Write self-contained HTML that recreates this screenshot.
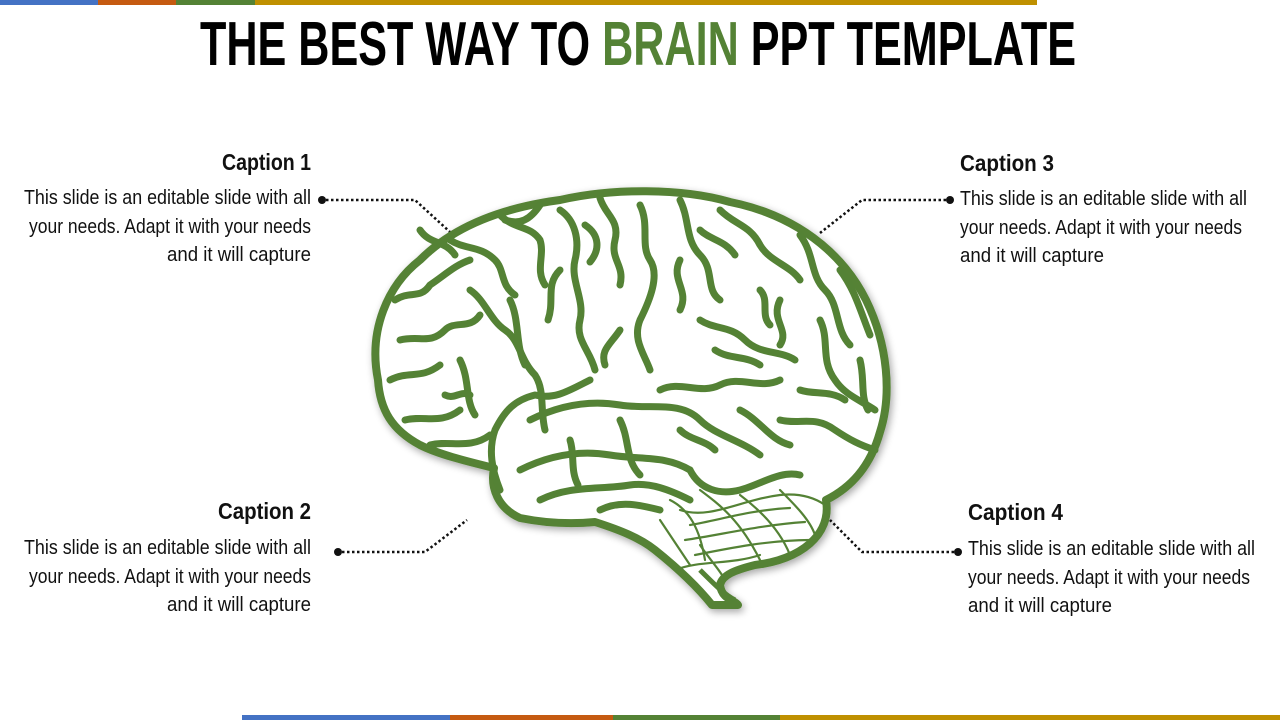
<!DOCTYPE html>
<html><head><meta charset="utf-8"><style>
html,body{margin:0;padding:0;background:#fff;width:1280px;height:720px;overflow:hidden}
svg{display:block}
text{font-family:"Liberation Sans Narrow","Liberation Sans",sans-serif}
.b{font-size:20px;fill:#111}
.h{font-size:23px;font-weight:bold;fill:#111}
.g{fill:none;stroke:#548235;stroke-width:7;stroke-linecap:round;stroke-linejoin:round}
.t{fill:none;stroke:#548235;stroke-width:2.2;stroke-linecap:round}
.d{fill:none;stroke:#111;stroke-width:2.5;stroke-dasharray:2.5 2.5}
</style></head><body>
<svg width="1280" height="720" viewBox="0 0 1280 720">
<defs><filter id="sh" x="-10%" y="-10%" width="120%" height="120%"><feGaussianBlur in="SourceAlpha" stdDeviation="4"/><feOffset dx="2" dy="3"/><feComponentTransfer><feFuncA type="linear" slope="0.35"/></feComponentTransfer><feMerge><feMergeNode/><feMergeNode in="SourceGraphic"/></feMerge></filter></defs>
<rect x="0" y="0" width="98" height="5" fill="#4472c4"/>
<rect x="98" y="0" width="78" height="5" fill="#c55a11"/>
<rect x="176" y="0" width="79" height="5" fill="#548235"/>
<rect x="255" y="0" width="782" height="5" fill="#bf9000"/>
<rect x="242" y="715" width="208" height="5" fill="#4472c4"/>
<rect x="450" y="715" width="163" height="5" fill="#c55a11"/>
<rect x="613" y="715" width="167" height="5" fill="#548235"/>
<rect x="780" y="715" width="500" height="5" fill="#bf9000"/>
<text x="200" y="65" font-size="62" font-weight="bold" textLength="876" lengthAdjust="spacingAndGlyphs" fill="#000">THE BEST WAY TO <tspan fill="#548235">BRAIN</tspan> PPT TEMPLATE</text>

<text class="h" x="222" y="170" textLength="89" lengthAdjust="spacingAndGlyphs">Caption 1</text>
<text class="b" x="24" y="204" textLength="287" lengthAdjust="spacingAndGlyphs">This slide is an editable slide with all</text>
<text class="b" x="29" y="233" textLength="282" lengthAdjust="spacingAndGlyphs">your needs. Adapt it with your needs</text>
<text class="b" x="167" y="261" textLength="144" lengthAdjust="spacingAndGlyphs">and it will capture</text>

<text class="h" x="218" y="519" textLength="93" lengthAdjust="spacingAndGlyphs">Caption 2</text>
<text class="b" x="24" y="554" textLength="287" lengthAdjust="spacingAndGlyphs">This slide is an editable slide with all</text>
<text class="b" x="29" y="583" textLength="282" lengthAdjust="spacingAndGlyphs">your needs. Adapt it with your needs</text>
<text class="b" x="167" y="611" textLength="144" lengthAdjust="spacingAndGlyphs">and it will capture</text>

<text class="h" x="960" y="171" textLength="94" lengthAdjust="spacingAndGlyphs">Caption 3</text>
<text class="b" x="960" y="205" textLength="287" lengthAdjust="spacingAndGlyphs">This slide is an editable slide with all</text>
<text class="b" x="960" y="234" textLength="282" lengthAdjust="spacingAndGlyphs">your needs. Adapt it with your needs</text>
<text class="b" x="960" y="262" textLength="144" lengthAdjust="spacingAndGlyphs">and it will capture</text>

<text class="h" x="968" y="520" textLength="95" lengthAdjust="spacingAndGlyphs">Caption 4</text>
<text class="b" x="968" y="555" textLength="287" lengthAdjust="spacingAndGlyphs">This slide is an editable slide with all</text>
<text class="b" x="968" y="584" textLength="282" lengthAdjust="spacingAndGlyphs">your needs. Adapt it with your needs</text>
<text class="b" x="968" y="612" textLength="144" lengthAdjust="spacingAndGlyphs">and it will capture</text>

<path class="d" d="M326 200 H415 L450 232"/><circle cx="322" cy="200" r="4" fill="#111"/>
<path class="d" d="M946 200 H862 L820 233"/><circle cx="950" cy="200" r="4" fill="#111"/>
<path class="d" d="M342 552 H425 L467 520"/><circle cx="338" cy="552" r="4" fill="#111"/>
<path class="d" d="M954 552 H862 L830 520"/><circle cx="958" cy="552" r="4" fill="#111"/>

<g filter="url(#sh)">
<path d="M378 380 C368 330 388 285 420 260 C452 228 500 208 560 200 C612 188 682 188 730 202 C795 215 842 252 866 300 C888 345 892 395 880 432 C870 468 850 488 826 500 C832 535 800 560 755 565 C735 570 722 575 720 585 C722 600 735 600 738 605 L712 605 C700 590 680 570 655 550 C640 538 620 530 595 522 C565 525 540 522 520 518 C498 508 490 488 494 468 C470 462 440 455 420 445 C392 430 380 410 378 380 Z" fill="#fff" stroke="#548235" stroke-width="8" stroke-linejoin="round"/>
</g>
<g class="g">
<path d="M395 300 C410 290 420 300 430 285 C445 275 455 265 470 260"/>
<path d="M400 340 C420 335 430 345 445 330 C455 320 470 330 480 315"/>
<path d="M390 380 C410 370 420 380 440 365"/>
<path d="M405 420 C425 415 440 425 460 410"/>
<path d="M430 445 C450 440 470 450 490 435"/>
<path d="M450 240 C465 250 480 245 495 260 C505 270 500 285 515 295"/>
<path d="M500 215 C515 230 530 225 540 240 C545 255 535 270 545 285"/>
<path d="M470 290 C485 300 490 320 505 330 C520 340 520 360 535 375 C545 390 540 410 545 430"/>
<path d="M510 300 C520 320 515 345 525 365"/>
<path d="M560 210 C575 220 580 240 575 260 C570 280 585 300 580 320 C575 340 590 350 595 370"/>
<path d="M600 198 C605 215 620 220 615 240 C610 260 625 265 620 285"/>
<path d="M560 270 C545 285 555 300 548 320"/>
<path d="M590 380 C570 390 555 400 535 395 C515 400 505 410 495 430 C488 450 492 470 500 490"/>
<path d="M640 205 C650 225 640 245 650 260 C660 275 650 300 640 320 C632 340 645 355 650 370"/>
<path d="M680 200 C690 220 685 240 700 255 C715 270 705 290 720 300"/>
<path d="M720 210 C735 225 750 225 760 245 C770 262 790 265 800 280"/>
<path d="M700 320 C715 330 730 325 745 340 C760 355 780 350 795 360"/>
<path d="M660 390 C680 380 700 395 720 385 C740 375 760 390 780 380"/>
<path d="M800 235 C815 255 810 275 825 290 C840 305 835 330 850 345"/>
<path d="M840 270 C855 290 860 310 870 335"/>
<path d="M820 320 C830 340 820 360 835 380 C845 395 860 400 875 410"/>
<path d="M780 420 C800 425 815 415 835 430 C850 440 860 445 875 450"/>
<path d="M740 410 C760 420 770 440 790 445"/>
<path d="M530 420 C560 405 590 400 620 405 C650 410 680 400 700 420 C715 435 740 440 760 455"/>
<path d="M520 470 C550 455 580 450 610 455 C640 460 665 455 690 470"/>
<path d="M540 500 C570 485 600 490 630 485 C650 482 670 490 690 500"/>
<path d="M620 420 C630 440 625 460 640 475"/>
<path d="M570 440 C575 455 570 470 578 485"/>
<path d="M690 470 C700 490 720 495 740 490 C760 485 780 470 800 475"/>
<path d="M460 360 C470 380 465 400 475 415"/>
<path d="M680 260 C670 280 690 290 680 310"/>
<path d="M780 300 C770 320 790 330 780 345"/>
<path d="M420 230 C430 245 445 240 455 255"/>
<path d="M540 205 C530 220 520 225 505 220"/>
<path d="M585 225 C600 235 600 250 590 262"/>
<path d="M700 230 C710 240 725 240 735 255"/>
<path d="M760 290 C770 300 760 315 770 325"/>
<path d="M620 330 C610 345 600 350 605 365"/>
<path d="M715 350 C730 360 745 355 760 365"/>
<path d="M800 390 C815 395 830 390 845 400"/>
<path d="M860 360 C865 380 860 395 868 410"/>
<path d="M445 395 C455 400 460 390 470 395"/>
<path d="M680 430 C690 440 705 440 715 450"/>
<path d="M600 510 C620 500 640 505 660 510"/>
</g>
<g class="t">
<path d="M680 510 C710 520 740 500 780 495 C800 493 815 498 825 505"/>
<path d="M690 525 C720 520 750 510 790 508"/>
<path d="M685 540 C720 535 760 525 805 522"/>
<path d="M695 555 C730 548 770 540 810 540"/>
<path d="M670 500 C690 510 700 530 705 560"/>
<path d="M700 490 C720 505 740 520 760 560"/>
<path d="M740 495 C760 510 780 530 790 555"/>
<path d="M780 490 C795 505 810 520 815 535"/>
<path d="M660 520 C670 535 680 550 690 565"/>
<path d="M675 570 C700 560 730 565 760 555"/>
<path d="M700 545 C710 560 720 570 725 580"/>
</g>
<path d="M700 570 C715 585 725 595 735 600" fill="none" stroke="#548235" stroke-width="5"/>
</svg>
</body></html>
